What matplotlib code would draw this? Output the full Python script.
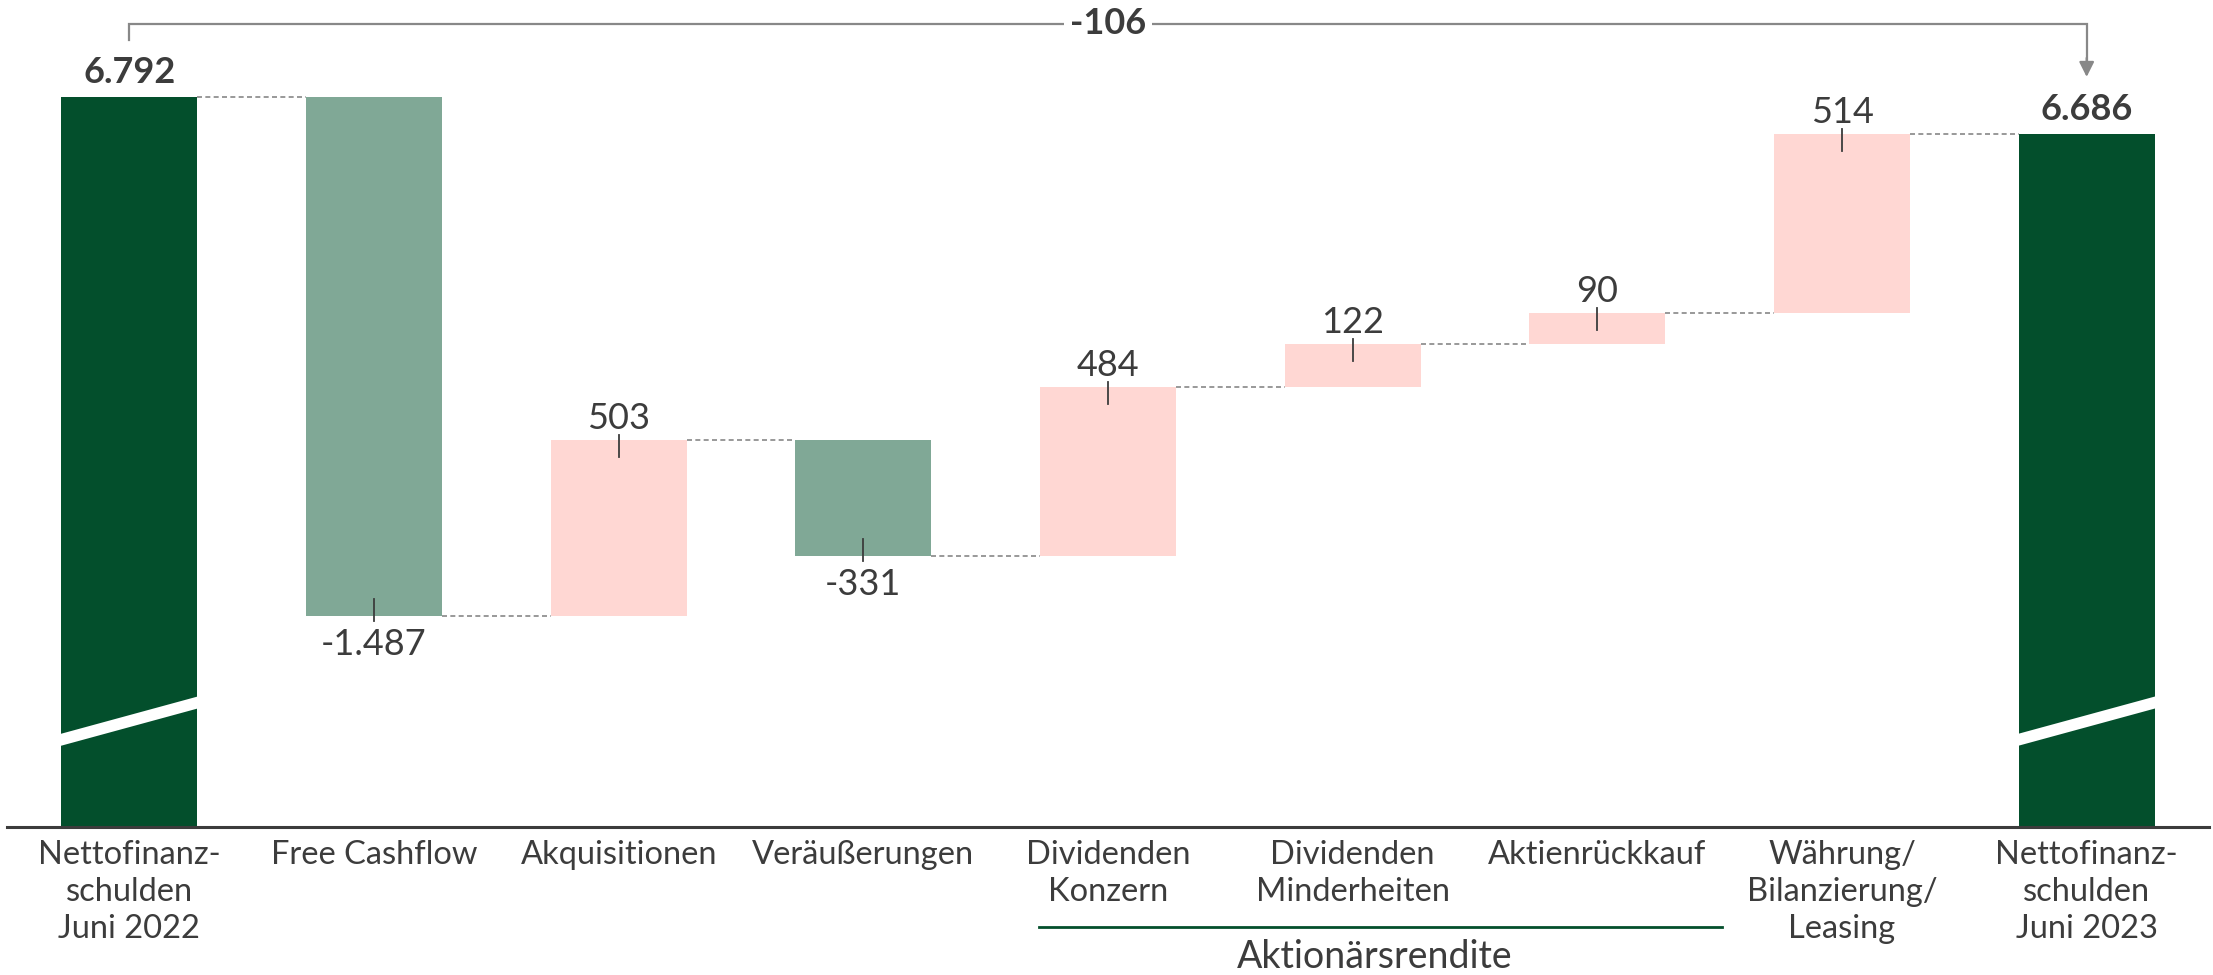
import matplotlib.pyplot as plt
import matplotlib.transforms as mtransforms

plt.rcParams['font.family'] = ['Lato', 'DejaVu Sans']

categories = ['Nettofinanz-\nschulden\nJuni 2022', 'Free Cashflow', 'Akquisitionen',
              'Veräußerungen', 'Dividenden\nKonzern', 'Dividenden\nMinderheiten',
              'Aktienrückkauf', 'Währung/\nBilanzierung/\nLeasing',
              'Nettofinanz-\nschulden\nJuni 2023']
start_total = 6792
end_total = 6686
deltas = [-1487, 503, -331, 484, 122, 90, 514]
delta_labels = ['-1.487', '503', '-331', '484', '122', '90', '514']
total_labels = ['6.792', '6.686']
change_label = '-106'
group_label = 'Aktionärsrendite'

dark_green = '#034f2c'
light_green = '#80a896'
pink = '#ffd7d3'
text_col = '#3c3c3c'
grey = '#888888'

fig = plt.figure(figsize=(22.13, 9.75), dpi=100)
ax = fig.add_axes([7 / 2213, 148 / 975, 2202 / 2213, 827 / 975])
ymin, ymax = 4700, 7070
ax.set_xlim(-0.5, 8.5)
ax.set_ylim(ymin, ymax)
width = 0.555
px = (ymax - ymin) / 827  # data units per pixel

# totals
n = len(categories)
ax.bar([0, n - 1], [start_total - ymin, end_total - ymin], bottom=ymin,
       width=width, color=dark_green, zorder=2)

# deltas
level = start_total
levels = [start_total]
for i, d in enumerate(deltas):
    x = i + 1
    lo, hi = min(level, level + d), max(level, level + d)
    ax.bar(x, hi - lo, bottom=lo, width=width,
           color=light_green if d < 0 else pink, zorder=2)
    level += d
    levels.append(level)
    if d > 0:
        ax.plot([x, x], [hi + 5 * px, hi - 17 * px], color=text_col, lw=1.3, zorder=3)
        ax.text(x, hi + 11 * px, delta_labels[i], ha='center', va='baseline',
                fontsize=26, color=text_col)
    else:
        ax.plot([x, x], [lo - 5 * px, lo + 17 * px], color=text_col, lw=1.3, zorder=3)
        ax.text(x, lo - 39 * px, delta_labels[i], ha='center', va='baseline',
                fontsize=26, color=text_col)

# connectors
for i in range(n - 1):
    y = levels[i]
    ax.plot([i + width / 2, i + 1 - width / 2], [y, y], color=grey,
            lw=1.2, ls=(0, (3, 2)), zorder=1)

# total labels
ax.text(0, start_total + 14 * px, total_labels[0], ha='center', va='baseline',
        fontsize=26, fontweight='bold', color=text_col)
ax.text(n - 1, end_total + 14 * px, total_labels[1], ha='center', va='baseline',
        fontsize=26, fontweight='bold', color=text_col)

# axis break bands on totals
trans = mtransforms.blended_transform_factory(ax.transData, ax.transAxes)
for x in [0, n - 1]:
    x0, x1 = x - width / 2 - 0.02, x + width / 2 + 0.02
    yl, yr, t = 0.106 - 0.002, 0.150 + 0.002, 0.0145
    ax.fill([x0, x1, x1, x0], [yl - t / 2, yr - t / 2, yr + t / 2, yl + t / 2],
            color='white', transform=trans, zorder=3, lw=0)

# top bracket with total change
yb = 0.971
ax.plot([0, 0, n - 1, n - 1], [0.952, yb, yb, 0.925], color=grey, lw=1.6,
        transform=trans, zorder=2, solid_joinstyle='miter', clip_on=False)
ax.annotate('', xy=(n - 1, 0.907), xytext=(n - 1, 0.93), xycoords=trans,
            arrowprops=dict(arrowstyle='-|>,head_length=0.9,head_width=0.45',
                            color=grey, lw=1.6, shrinkA=0, shrinkB=0))
ax.text((n - 1) / 2, yb, change_label, transform=trans, ha='center', va='center',
        fontsize=26, fontweight='bold', color=text_col, zorder=4,
        bbox=dict(facecolor='white', edgecolor='none', pad=4))

# axis styling
for s in ['top', 'right', 'left']:
    ax.spines[s].set_visible(False)
ax.spines['bottom'].set_color(text_col)
ax.spines['bottom'].set_linewidth(2.2)
ax.set_yticks([])
ax.set_xticks(range(n))
ax.set_xticklabels(categories, fontsize=23.5, color=text_col, linespacing=1.3,
                   va='top')
ax.tick_params(axis='x', length=0, pad=9)

# group bracket under dividend / buyback categories
ax.plot([3.72, 6.51], [-0.121, -0.121], color=dark_green, lw=2, transform=trans,
        clip_on=False)
ax.text(5.09, -0.1705, group_label, transform=trans, ha='center', va='baseline',
        fontsize=27, color=text_col)

fig.savefig('out.png', dpi=100)
